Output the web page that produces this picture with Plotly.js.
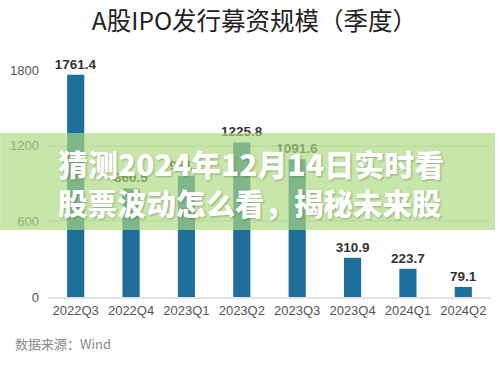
<!DOCTYPE html>
<html>
<head>
<meta charset="utf-8">
<script src="https://cdn.plot.ly/plotly-3.0.1.min.js"></script>
<style>
html,body{margin:0;padding:0;background:#fff;}
#chart{width:499px;height:365px;}
</style>
</head>
<body>
<div id="chart"></div>
<script>
var quarters = ["2022Q3","2022Q4","2023Q1","2023Q2","2023Q3","2023Q4","2024Q1","2024Q2"];
var raised = [1761.4, 860.5, 961.2, 1225.8, 1091.6, 310.9, 223.7, 79.1];
var valueLabels = ["1761.4","860.5","961.2","1225.8","1091.6","310.9","223.7","79.1"];
var yTicks = [0, 600, 1200, 1800];
var titleText = "A股IPO发行募资规模（季度）";
var sourceText = "数据来源：Wind";
var overlayLine1 = "猜测2024年12月14日实时看";
var overlayLine2 = "股票波动怎么看，揭秘未来股";

var trace = {
  type: "bar",
  x: quarters,
  y: raised,
  text: valueLabels,
  textposition: "outside",
  constraintext: "none",
  cliponaxis: false,
  textfont: {family: "Liberation Sans, Arial, sans-serif", size: 13.5, color: "#333", weight: "bold"},
  marker: {color: "#1f6f9c"},
  hoverinfo: "none"
};

var layout = {
  width: 499, height: 365,
  margin: {l: 48, r: 8, t: 70, b: 68},
  paper_bgcolor: "#fff", plot_bgcolor: "#fff",
  bargap: 0.69,
  showlegend: false,
  title: {
    text: titleText,
    x: 0.51, xref: "container", xanchor: "center",
    y: 0.94, yref: "container", yanchor: "middle",
    font: {family: "Noto Sans CJK SC, sans-serif", size: 24.5, color: "#222"}
  },
  xaxis: {
    type: "category",
    showgrid: false,
    showline: true, linecolor: "#e3e3e3", linewidth: 2,
    ticks: "",
    tickfont: {family: "Liberation Sans, Arial, sans-serif", size: 13, color: "#555"},
    fixedrange: true
  },
  yaxis: {
    range: [0, 1800],
    tickvals: yTicks,
    ticktext: yTicks.map(String),
    showgrid: true, gridcolor: "#e6e6e6", gridwidth: 2,
    zeroline: false,
    showline: false,
    ticks: "",
    ticklabelstandoff: 8,
    tickfont: {family: "Liberation Sans, Arial, sans-serif", size: 13, color: "#555"},
    fixedrange: true
  },
  shapes: [{
    type: "rect", layer: "above",
    xref: "paper", yref: "paper",
    x0: -0.108, x1: 1.009, y0: 0.295, y1: 0.722,
    fillcolor: "rgba(172,218,130,0.68)",
    line: {width: 0}
  }],
  annotations: [
    {
      text: sourceText, showarrow: false,
      xref: "paper", yref: "paper", x: -0.079, y: -0.207,
      xanchor: "left", yanchor: "middle",
      font: {family: "Noto Sans CJK SC, sans-serif", size: 13, color: "#8a8a8a"}
    },
    {
      text: overlayLine1, showarrow: false,
      xref: "paper", yref: "paper", x: 0.018, y: 0.592,
      xanchor: "left", yanchor: "middle",
      font: {family: "Noto Sans CJK SC, sans-serif", size: 30, color: "#ffffff", weight: 900,
             shadow: "1px 1px 2px rgba(60,90,40,0.4)"}
    },
    {
      text: overlayLine2, showarrow: false,
      xref: "paper", yref: "paper", x: 0.018, y: 0.42,
      xanchor: "left", yanchor: "middle",
      font: {family: "Noto Sans CJK SC, sans-serif", size: 29.5, color: "#ffffff", weight: 900,
             shadow: "1px 1px 2px rgba(60,90,40,0.4)"}
    }
  ]
};

Plotly.newPlot("chart", [trace], layout, {displayModeBar: false, staticPlot: true});
</script>
</body>
</html>
